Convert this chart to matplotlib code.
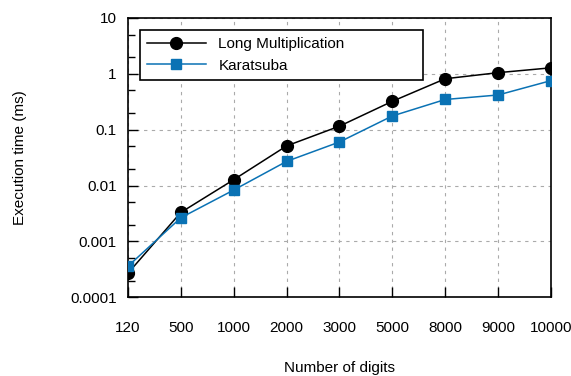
import numpy as np
import matplotlib
matplotlib.use('Agg')
import matplotlib.pyplot as plt
from matplotlib.ticker import LogLocator, FixedLocator, NullFormatter

plt.rcParams['font.family'] = ['Liberation Sans', 'DejaVu Sans']

# digit counts used for the benchmark runs
digits = ['120', '500', '1000', '2000', '3000', '5000', '8000', '9000', '10000']

# execution times in ms
long_mult = [0.00027, 0.0033, 0.0127, 0.051, 0.115, 0.32, 0.81, 1.04, 1.27]
karatsuba = [0.00036, 0.00265, 0.0083, 0.027, 0.06, 0.175, 0.345, 0.415, 0.75]

blue = '#0a72b4'

fig = plt.figure(figsize=(5.71, 3.76), dpi=100)
ax = fig.add_axes([0.224, 0.209, 0.741, 0.744])

x = np.arange(len(digits))
ax.plot(x, long_mult, color='black', lw=1.1, marker='o', markersize=8.5,
        label='Long Multiplication', zorder=3)
ax.plot(x, karatsuba, color=blue, lw=1.1, marker='s', markersize=7,
        label='Karatsuba', zorder=3)

ax.set_yscale('log')
ax.set_ylim(1e-4, 10)
ax.set_xlim(x[0], x[-1])

ax.set_xticks(x)
ax.set_xticklabels(digits)
ax.yaxis.set_major_locator(FixedLocator([1e-4, 1e-3, 1e-2, 1e-1, 1, 10]))
ax.set_yticklabels(['0.0001', '0.001', '0.01', '0.1', '1', '10'])
ax.yaxis.set_minor_locator(LogLocator(base=10, subs=[2, 5], numticks=20))
ax.yaxis.set_minor_formatter(NullFormatter())

ax.tick_params(axis='both', which='both', direction='in', labelsize=11,
               color='black', width=1.0)
ax.tick_params(axis='x', which='major', length=7, pad=17)
ax.tick_params(axis='y', which='major', length=7, pad=8)
ax.tick_params(axis='y', which='minor', length=5)

ax.grid(True, which='major', linestyle=(0, (3, 4)), color='#aaaaaa', lw=0.8)

for s in ax.spines.values():
    s.set_linewidth(1.2)
    s.set_color('black')

ax.set_xlabel('Number of digits', fontsize=11, labelpad=19)
ax.set_ylabel('Execution time (ms)', fontsize=11, labelpad=31)

leg = ax.legend(loc='upper left', bbox_to_anchor=(0.028, 0.5, 0.669, 0.455),
                mode='expand', borderaxespad=0, fontsize=11, handlelength=3.9,
                handletextpad=0.8, labelspacing=0.5, fancybox=False,
                framealpha=1, edgecolor='black', borderpad=0.45)
leg.get_frame().set_linewidth(1.2)

fig.savefig('out.png', dpi=100)
